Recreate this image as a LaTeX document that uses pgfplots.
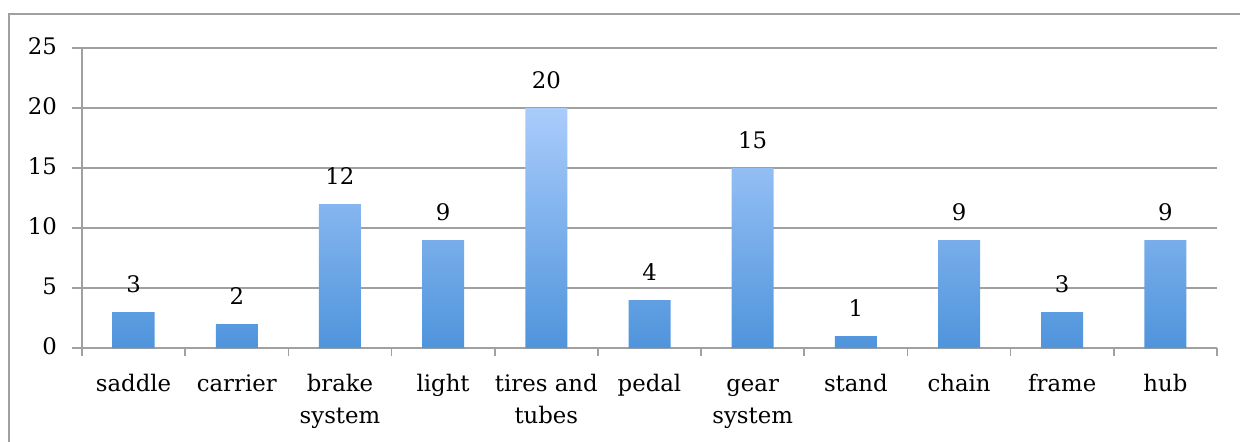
\documentclass[border=0pt]{standalone}
\usepackage{pgfplots}
\pgfplotsset{compat=1.18}
\usepackage{fontspec}
\setmainfont{DejaVu Serif}
\definecolor{gridgray}{RGB}{160,160,160}
\definecolor{bartop}{RGB}{170,204,251}
\definecolor{barbot}{RGB}{79,148,220}
\begin{document}
\begin{tikzpicture}
\draw[gridgray, line width=1pt] (-36.5pt,-60pt) -- (-36.5pt,167pt) -- (590pt,167pt);
\begin{axis}[
  at={(0,0)}, anchor=south west,
  scale only axis,
  width=567.5pt, height=150pt,
  xmin=-0.5, xmax=10.5,
  ymin=0, ymax=25,
  ytick={0,5,...,25},
  xtick={0,...,10},
  xticklabels={saddle,carrier,{brake\\system},light,{tires and\\tubes},pedal,{gear\\system},stand,chain,frame,hub},
  typeset ticklabels with strut,
  minor xtick={-0.5,0.5,...,10.5},
  major x tick style={draw=none},
  minor x tick style={gridgray, line width=0.8pt},
  minor tick length=4pt,
  y tick style={gridgray, line width=0.8pt},
  major tick length=5pt,
  tick align=outside,
  axis x line*=bottom,
  axis y line*=left,
  axis line style={gridgray, line width=0.8pt, -},
  ymajorgrids,
  grid style={gridgray, line width=0.8pt},
  font=\fontsize{11.4}{16}\selectfont,
  xticklabel style={align=center, yshift=-2pt},
  yticklabel style={xshift=-4pt},
  /pgf/number format/assume math mode=true,
  ybar, bar width=21pt,
  nodes near coords,
  nodes near coords style={font=\fontsize{11.4}{15}\selectfont, yshift=6pt},
  clip=false,
]
\addplot[draw=none, top color=bartop, bottom color=barbot] coordinates {
(0,3) (1,2) (2,12) (3,9) (4,20) (5,4) (6,15) (7,1) (8,9) (9,3) (10,9)
};
\end{axis}
\pgfresetboundingbox
\path[use as bounding box] (-41pt,-46.5pt) rectangle (579pt,174pt);
\end{tikzpicture}
\end{document}
